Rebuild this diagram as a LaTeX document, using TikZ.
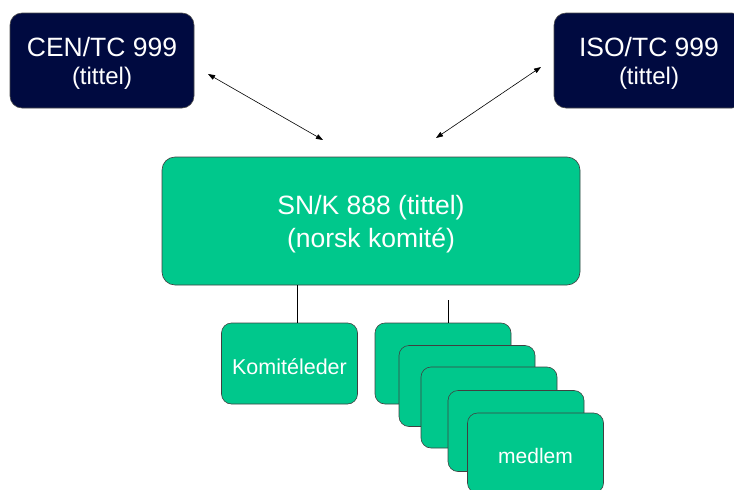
\documentclass[tikz,border=0pt]{standalone}
\usepackage{fontspec}
\setmainfont{Liberation Sans}
\usetikzlibrary{calc,arrows.meta}
\definecolor{snnavy}{RGB}{0,10,64}
\definecolor{sngreen}{RGB}{0,200,140}

\begin{document}
\begin{tikzpicture}[x=1pt,y=-1pt,
    tc/.style={rectangle,rounded corners=12pt,fill=snnavy,draw=black!70,line width=0.6pt,
               text=white,align=center,minimum width=184pt,minimum height=95pt,inner sep=0pt,
               text depth=0pt,font=\fontsize{26.5}{28}\selectfont},
    komite/.style={rectangle,rounded corners=13pt,fill=sngreen,draw=black!75,line width=0.6pt,
               text=white,align=center,minimum width=418pt,minimum height=128pt,inner sep=0pt,
               text depth=0pt,font=\fontsize{26.5}{33}\selectfont},
    person/.style={rectangle,rounded corners=10pt,fill=sngreen,draw=black!75,line width=0.6pt,
               text=white,minimum width=136pt,minimum height=81pt,inner sep=0pt,
               text height=21pt,text depth=0pt,font=\fontsize{21.5}{24}\selectfont},
    link/.style={{Triangle[length=7pt,width=5pt]}-{Triangle[length=7pt,width=5pt]},line width=0.6pt}]
  \useasboundingbox (0,0) rectangle (734,490);

    \node[tc] (Cen) at(102,60.5)
         {CEN/TC 999\\\fontsize{24}{28}\selectfont (tittel)};
    \node[tc,minimum width=190pt] (Iso) at(649,60.5)
         {ISO/TC 999\\\fontsize{24}{28}\selectfont (tittel)};

    \node[komite] (Snk) at(371,221) {SN/K 888 (tittel)\\(norsk komité)};

    \node[person] (Leder) at(289.5,363.5) {Komitéleder};

    \foreach \i/\x/\y in{1/443/363.5,2/467/386,3/489/407.5,4/516/431}
             {
               \node[person] (M\i) at(\x,\y) {};
             }
    \node[person,minimum height=80pt,font=\fontsize{21}{24}\selectfont] (M5) at(535.5,453) {medlem};

    \coordinate (CenEnd)   at(208,74);
    \coordinate (CenMid)   at(323,140);
    \coordinate (IsoEnd)   at(541,67);
    \coordinate (IsoMid)   at(436,138);
    \coordinate (Top)      at(448,300);
    \coordinate (LederTop) at($(Leder.north)+(7.5,0)$);

    \draw[link] (CenEnd) -- (CenMid);
    \draw[link] (IsoEnd) -- (IsoMid);

    \draw[line width=0.6pt] (LederTop |- Snk.south) -- (LederTop);
    \draw[line width=0.6pt] (Top) -- (Top |- M1.north);

\end{tikzpicture}
\end{document}
